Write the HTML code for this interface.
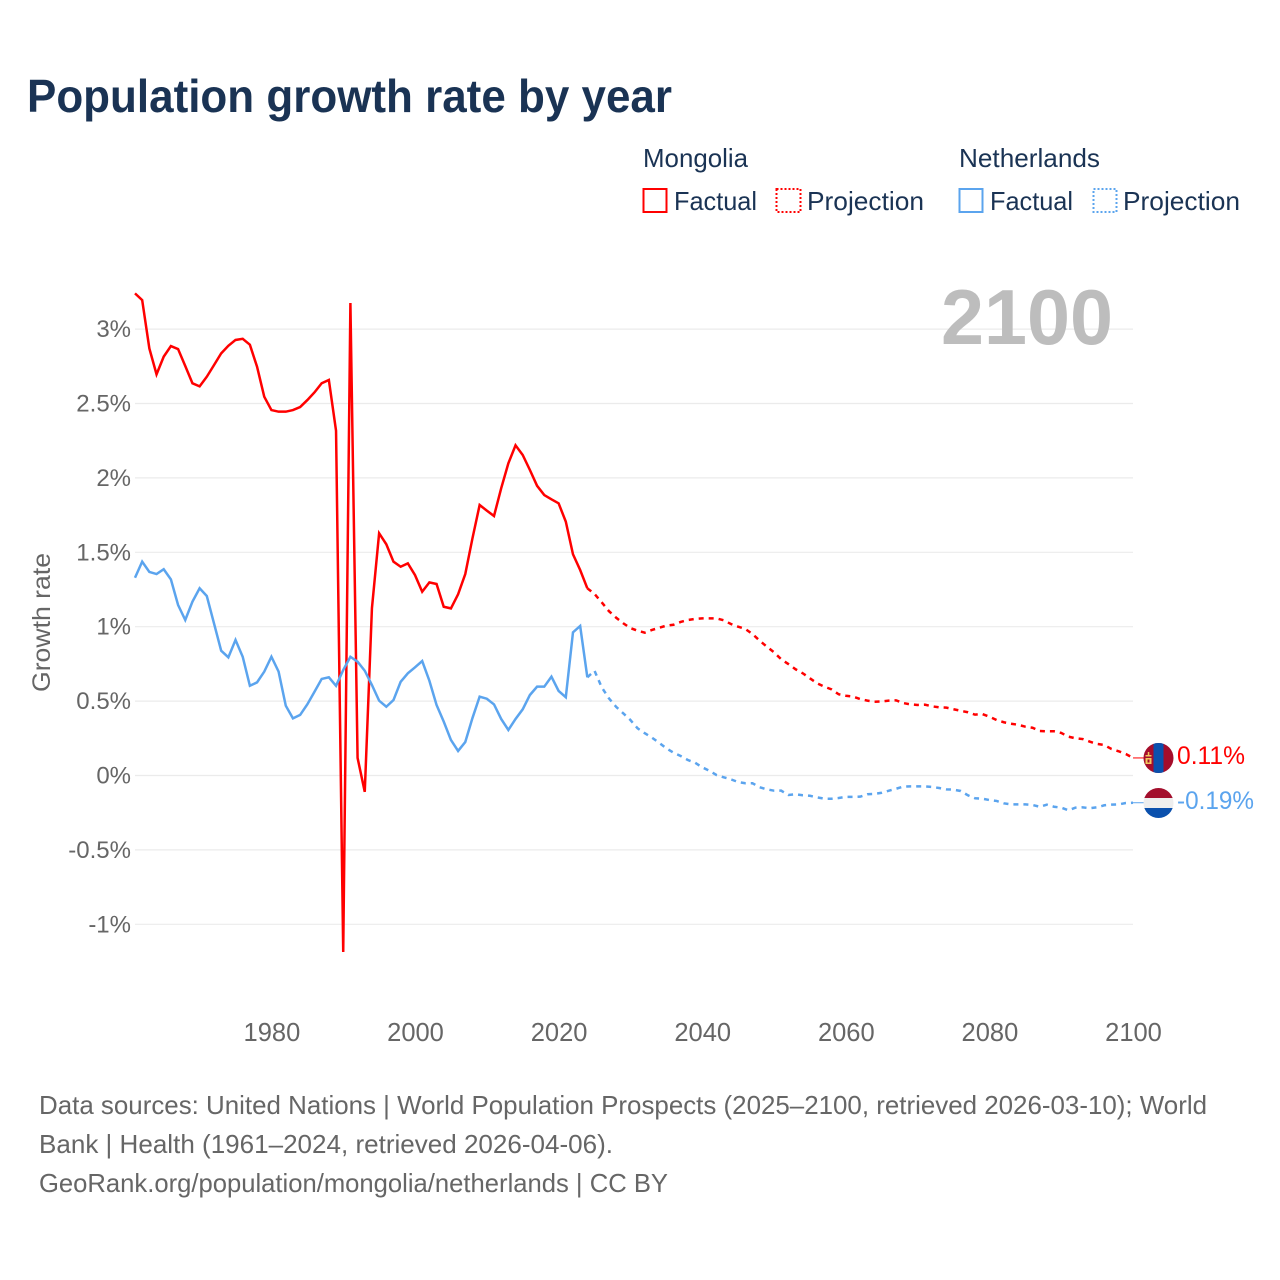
<!DOCTYPE html>
<html lang="en">
<head>
<meta charset="utf-8">
<title>Population growth rate by year</title>
<style>
html,body{margin:0;padding:0;background:#fff;width:1280px;height:1280px;overflow:hidden}
svg{display:block;font-family:"Liberation Sans",sans-serif}
</style>
</head>
<body>
<svg id="chart" width="1280" height="1280" viewBox="0 0 1280 1280" xmlns="http://www.w3.org/2000/svg">
  <defs>
    <clipPath id="clip-mn"><circle id="clip-mn-c" cx="1158.5" cy="758" r="15"/></clipPath>
    <clipPath id="clip-nl"><circle id="clip-nl-c" cx="1158.5" cy="803" r="15"/></clipPath>
  </defs>
  <rect x="0" y="0" width="1280" height="1280" fill="#fff"/>
  <text x="27" y="112" font-size="46" font-weight="700" fill="#1a3354" textLength="645" lengthAdjust="spacingAndGlyphs">Population growth rate by year</text>

  <g font-size="26" fill="#1a3354">
    <text x="643" y="167" textLength="105" lengthAdjust="spacingAndGlyphs">Mongolia</text>
    <rect x="643.5" y="189" width="23" height="23" fill="none" stroke="#ff0000" stroke-width="2"/>
    <text x="674" y="210" textLength="83" lengthAdjust="spacingAndGlyphs">Factual</text>
    <rect x="776.5" y="189" width="24" height="23" fill="none" stroke="#ff0000" stroke-width="2" stroke-dasharray="2 2"/>
    <text x="807" y="210" textLength="117" lengthAdjust="spacingAndGlyphs">Projection</text>
    <text x="959" y="167" textLength="141" lengthAdjust="spacingAndGlyphs">Netherlands</text>
    <rect x="959.5" y="189" width="23" height="23" fill="none" stroke="#5ba4ee" stroke-width="2"/>
    <text x="990" y="210" textLength="83" lengthAdjust="spacingAndGlyphs">Factual</text>
    <rect x="1093.5" y="189" width="23" height="23" fill="none" stroke="#5ba4ee" stroke-width="2" stroke-dasharray="2 2"/>
    <text x="1123" y="210" textLength="117" lengthAdjust="spacingAndGlyphs">Projection</text>
  </g>

  <g id="grid"></g>
  <text x="1113" y="344" text-anchor="end" font-size="78" font-weight="700" fill="#bdbdbd" textLength="172" lengthAdjust="spacingAndGlyphs">2100</text>
  <g id="yticks" font-size="24" fill="#666"></g>
  <g id="xticks" font-size="25.5" fill="#666"></g>
  <text transform="translate(50 692) rotate(-90)" font-size="25" fill="#666" textLength="139" lengthAdjust="spacingAndGlyphs">Growth rate</text>

  <g id="series"></g>

  <g id="flag-mn">
    <g clip-path="url(#clip-mn)">
      <rect x="1143" y="742" width="31" height="32" fill="#a50d2b"/>
      <rect x="1153.5" y="742" width="10" height="32" fill="#0a50ad"/>
      <rect x="1145.5" y="755" width="6" height="1.5" fill="#f2c75c"/>
      <rect x="1145.5" y="758" width="6" height="6" fill="#f2c75c"/>
      <rect x="1147.8" y="752" width="1.5" height="3" fill="#f2c75c"/>
      <rect x="1147.5" y="759.5" width="2" height="3" fill="#a50d2b"/>
    </g>
  </g>
  <g id="flag-nl">
    <g clip-path="url(#clip-nl)">
      <rect x="1143" y="787" width="31" height="11" fill="#a30f2d"/>
      <rect x="1143" y="798" width="31" height="10" fill="#eeeeee"/>
      <rect x="1143" y="808" width="31" height="11" fill="#0a50ad"/>
    </g>
  </g>
  <text id="label-mn" x="1177" y="764" font-size="25" fill="#ff0000" textLength="68" lengthAdjust="spacingAndGlyphs">0.11%</text>
  <text id="label-nl" x="1177" y="809" font-size="25" fill="#5ba4ee" textLength="77" lengthAdjust="spacingAndGlyphs">-0.19%</text>

  <g font-size="26" fill="#666">
    <text x="39" y="1114" textLength="1168" lengthAdjust="spacingAndGlyphs">Data sources: United Nations | World Population Prospects (2025–2100, retrieved 2026-03-10); World</text>
    <text x="39" y="1153" textLength="574" lengthAdjust="spacingAndGlyphs">Bank | Health (1961–2024, retrieved 2026-04-06).</text>
    <text x="39" y="1192" textLength="629" lengthAdjust="spacingAndGlyphs">GeoRank.org/population/mongolia/netherlands | CC BY</text>
  </g>
</svg>
<script>
const gridValues = [3, 2.5, 2, 1.5, 1, 0.5, 0, -0.5, -1];
const gridLabels = ["3%", "2.5%", "2%", "1.5%", "1%", "0.5%", "0%", "-0.5%", "-1%"];
const xTickYears = [1980, 2000, 2020, 2040, 2060, 2080, 2100];
const factualStartYear = 1961;
const projectionStartYear = 2024;
const mongoliaFactual = [
  3.24, 3.195, 2.87, 2.696, 2.815, 2.886, 2.866, 2.752, 2.636, 2.615,
  2.68, 2.758, 2.837, 2.888, 2.927, 2.935, 2.895, 2.747, 2.546, 2.456,
  2.445, 2.445, 2.456, 2.476, 2.523, 2.575, 2.636, 2.658, 2.317, -1.186,
  3.175, 0.118, -0.11, 1.125, 1.628, 1.554, 1.437, 1.403, 1.426, 1.347,
  1.235, 1.298, 1.287, 1.134, 1.123, 1.218, 1.354, 1.594, 1.818, 1.78,
  1.744, 1.93, 2.098, 2.219, 2.154, 2.053, 1.947, 1.885, 1.856, 1.829,
  1.706, 1.487, 1.381, 1.258
];
const netherlandsFactual = [
  1.329, 1.437, 1.368, 1.354, 1.386, 1.318, 1.146, 1.045, 1.168, 1.258,
  1.206, 1.023, 0.839, 0.794, 0.911, 0.798, 0.603, 0.626, 0.698, 0.798,
  0.698, 0.469, 0.384, 0.407, 0.478, 0.563, 0.649, 0.66, 0.603, 0.709,
  0.798, 0.765, 0.704, 0.608, 0.503, 0.462, 0.507, 0.63, 0.687, 0.727,
  0.769, 0.637, 0.474, 0.362, 0.239, 0.165, 0.225, 0.386, 0.53, 0.516,
  0.478, 0.38, 0.306, 0.38, 0.445, 0.541, 0.597, 0.597, 0.664, 0.568,
  0.526, 0.962, 1.005, 0.66
];
const mongoliaProjection = [
  1.258, 1.22, 1.164, 1.105, 1.061, 1.023, 0.991, 0.973, 0.96, 0.978,
  0.993, 1.007, 1.013, 1.032, 1.045, 1.052, 1.056, 1.056, 1.056, 1.043,
  1.018, 1.0, 0.985, 0.951, 0.906, 0.866, 0.828, 0.781, 0.749, 0.714,
  0.687, 0.653, 0.62, 0.597, 0.579, 0.546, 0.536, 0.53, 0.514, 0.503,
  0.496, 0.498, 0.503, 0.505, 0.487, 0.478, 0.474, 0.476, 0.465, 0.458,
  0.456, 0.445, 0.435, 0.425, 0.409, 0.413, 0.395, 0.373, 0.358, 0.348,
  0.341, 0.328, 0.321, 0.299, 0.297, 0.297, 0.286, 0.261, 0.25, 0.245,
  0.227, 0.212, 0.205, 0.178, 0.163, 0.144, 0.118
];
const netherlandsProjection = [
  0.66, 0.704, 0.593, 0.519, 0.462, 0.418, 0.373, 0.317, 0.284, 0.254,
  0.22, 0.183, 0.153, 0.131, 0.104, 0.086, 0.055, 0.032, 0.003, -0.012,
  -0.026, -0.044, -0.052, -0.052, -0.079, -0.093, -0.102, -0.102, -0.131, -0.126,
  -0.133, -0.136, -0.147, -0.156, -0.156, -0.151, -0.144, -0.144, -0.142, -0.126,
  -0.124, -0.116, -0.102, -0.089, -0.075, -0.073, -0.073, -0.073, -0.077, -0.084,
  -0.093, -0.095, -0.104, -0.133, -0.153, -0.156, -0.165, -0.171, -0.187, -0.194,
  -0.194, -0.194, -0.198, -0.21, -0.196, -0.21, -0.216, -0.234, -0.216, -0.214,
  -0.22, -0.214, -0.2, -0.196, -0.194, -0.185, -0.183
];

const NS = "http://www.w3.org/2000/svg";
function xScale(year) { return 135 + (year - 1961) * 7.18; }
function yScale(value) { return 775.5 - value * 148.8; }
function linePath(values, startYear) {
  return values.map(function (v, i) {
    return (i ? "L" : "M") + xScale(startYear + i).toFixed(2) + " " + yScale(v).toFixed(2);
  }).join(" ");
}
function addLine(values, startYear, color, dash, name) {
  const p = document.createElementNS(NS, "path");
  p.setAttribute("d", linePath(values, startYear));
  p.setAttribute("fill", "none");
  p.setAttribute("stroke", color);
  p.setAttribute("stroke-width", "2.5");
  p.setAttribute("stroke-linejoin", "miter");
  if (dash) p.setAttribute("stroke-dasharray", dash);
  
  
  document.getElementById("series").appendChild(p);
}

gridValues.forEach(function (v, i) {
  const l = document.createElementNS(NS, "line");
  l.setAttribute("x1", xScale(1961));
  l.setAttribute("x2", xScale(2100));
  l.setAttribute("y1", yScale(v));
  l.setAttribute("y2", yScale(v));
  l.setAttribute("stroke", "#ebebeb");
  l.setAttribute("stroke-width", "1.2");
  
  
  document.getElementById("grid").appendChild(l);

  const t = document.createElementNS(NS, "text");
  t.setAttribute("x", "131");
  t.setAttribute("y", yScale(v) + 8);
  t.setAttribute("text-anchor", "end");
  t.textContent = gridLabels[i];
  
  
  document.getElementById("yticks").appendChild(t);
});

xTickYears.forEach(function (year) {
  const t = document.createElementNS(NS, "text");
  t.setAttribute("x", xScale(year) + 0.5);
  t.setAttribute("y", "1041");
  t.setAttribute("text-anchor", "middle");
  t.textContent = String(year);
  
  
  document.getElementById("xticks").appendChild(t);
});

const red = "#ff0000";
const blue = "#5ba4ee";
addLine(mongoliaFactual, factualStartYear, red, null, "mongolia-factual-line");
addLine(mongoliaProjection, projectionStartYear, red, "5 5", "mongolia-projection-line");
addLine(netherlandsFactual, factualStartYear, blue, null, "netherlands-factual-line");
addLine(netherlandsProjection, projectionStartYear, blue, "5 5", "netherlands-projection-line");

function addConnector(values, color, name) {
  const y = yScale(values[values.length - 1]);
  const c = document.createElementNS(NS, "line");
  c.setAttribute("x1", xScale(2100));
  c.setAttribute("x2", "1145");
  c.setAttribute("y1", y);
  c.setAttribute("y2", y);
  c.setAttribute("stroke", color);
  c.setAttribute("stroke-width", "1");
  
  
  document.getElementById("series").appendChild(c);
}
addConnector(mongoliaProjection, red, "mongolia-end-connector");
addConnector(netherlandsProjection, blue, "netherlands-end-connector");
</script>
</body>
</html>
